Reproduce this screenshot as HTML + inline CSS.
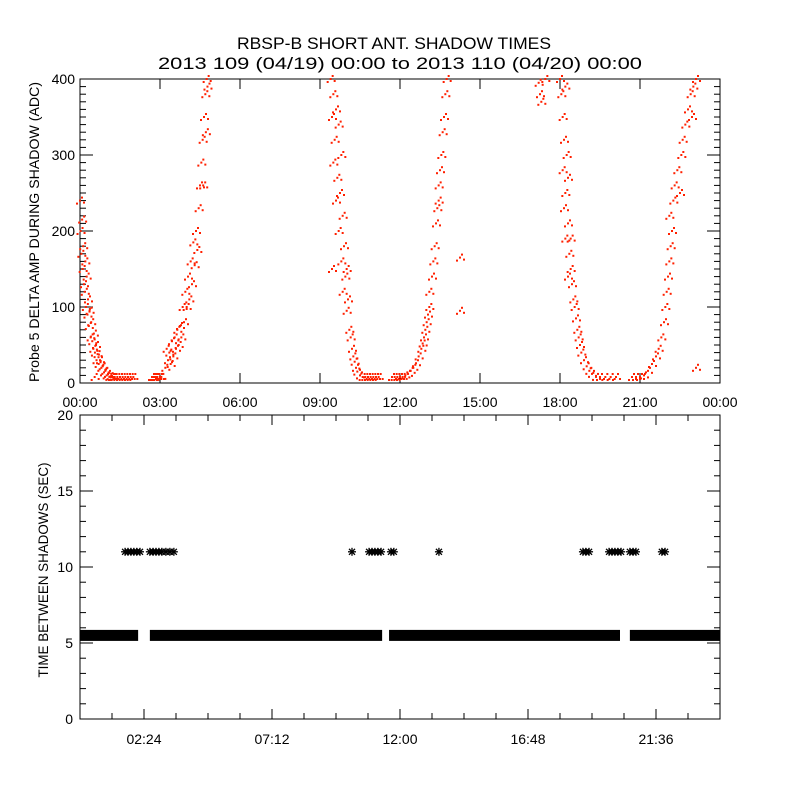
<!DOCTYPE html>
<html><head><meta charset="utf-8"><style>
html,body{margin:0;padding:0;background:#fff;}
svg{display:block;font-family:"Liberation Sans",sans-serif;}
text{fill:#000;}
</style></head><body>
<svg id="c" width="800" height="800" viewBox="0 0 800 800" xmlns="http://www.w3.org/2000/svg">
<rect width="800" height="800" fill="#fff"/>
<text x="394" y="49" font-size="17" text-anchor="middle" textLength="314" lengthAdjust="spacingAndGlyphs">RBSP-B SHORT ANT. SHADOW TIMES</text>
<text x="400" y="69" font-size="17" text-anchor="middle" textLength="484" lengthAdjust="spacingAndGlyphs">2013 109 (04/19) 00:00 to 2013 110 (04/20) 00:00</text>
<g id="top"></g>
<g id="bot"></g>
<text transform="translate(39,232) rotate(-90)" font-size="14" text-anchor="middle" textLength="300" lengthAdjust="spacingAndGlyphs">Probe 5 DELTA AMP DURING SHADOW (ADC)</text>
<text transform="translate(48,570) rotate(-90)" font-size="14" text-anchor="middle" textLength="215" lengthAdjust="spacingAndGlyphs">TIME BETWEEN SHADOWS (SEC)</text>
</svg>
<script>
// ---- top panel data (hours, ADC) ----
const arc1Hours=[0,0.02,0.05,0.08,0.1,0.12,0.15,0.18,0.2,0.22,0.25,0.28,0.3,0.33,0.36,0.4,0.42,0.46,0.5,0.52,0.56,0.6,0.62,0.66,0.7,0.75,0.8,0.85,0.9,0.95,1.0,1.05,1.1,1.15,1.2,1.25,1.3,1.4,1.5,1.6,1.7,1.8,1.9,2.0,0.55,2.7,2.75,2.8,2.85,2.9,3.0,3.05,3.2,3.25,3.3,3.35,3.4,3.45,3.5,3.55,3.6,3.65,3.7,3.75,3.8,3.85,3.9,3.95,4.0,4.05,4.1,4.15,4.2,4.25,4.3,4.35,4.4,4.45,4.5,4.55,4.6,4.62,4.65,4.7,4.72,4.75,4.78];
const arc1Amps=[240,200,170,215,150,180,130,120,160,100,140,90,110,75,95,60,80,55,45,65,40,50,30,38,25,30,20,22,14,16,10,12,8,9,6,5,4,3,2,1,1,1,1,1,5,1,0,2,1,3,5,8,20,45,30,40,25,55,35,60,45,70,50,75,60,100,80,120,100,140,110,160,130,185,155,200,175,230,260,290,320,260,350,380,330,400,390];
const arc2Hours=[9.4,9.5,9.45,9.6,9.55,9.7,9.5,9.65,9.8,9.6,9.75,9.85,9.7,9.9,9.8,9.95,9.85,10.0,10.05,10.0,10.1,10.15,10.2,10.25,10.3,10.35,10.4,10.5,10.6,10.7,10.8,10.9,11.0,11.1,11.2,9.45,11.7,11.8,11.9,12.0,12.1,12.2,12.3,12.4,12.5,12.6,12.7,12.8,12.85,12.9,12.95,13.0,13.05,13.1,13.1,13.2,13.25,13.3,13.35,13.4,13.45,13.5,13.55,13.6,13.65,13.7,13.75,13.45,14.25,14.25];
const arc2Amps=[400,380,350,360,320,340,290,270,300,240,250,220,200,180,160,140,120,150,110,95,70,60,45,35,28,20,15,10,6,4,3,2,1,1,2,150,1,3,5,6,8,10,12,16,20,26,35,45,52,60,70,80,90,100,120,140,160,180,210,230,260,280,300,330,350,380,400,240,165,95];
const arc3Hours=[17.2,17.25,17.3,17.45,18.0,18.05,18.1,18.2,18.15,18.25,18.1,18.2,18.3,18.15,18.3,18.2,18.35,18.4,18.45,18.5,18.55,18.6,18.65,18.7,18.75,18.8,18.9,19.0,19.1,19.2,19.35,19.5,19.7,19.9,20.1,18.4,18.3,20.7,20.85,21.0,21.15,21.3,21.45,21.6,21.7,21.8,21.9,21.95,22.0,22.05,22.1,22.15,22.2,22.1,22.25,22.3,22.4,22.5,22.55,22.6,22.7,22.8,22.9,23.0,23.1,22.95,23.1];
const arc3Amps=[395,380,370,400,400,380,350,390,320,300,280,250,270,230,210,190,170,150,130,110,100,85,70,60,50,40,30,22,16,12,8,5,3,1,0,190,140,0,3,6,10,16,25,35,45,60,80,100,120,140,160,180,200,220,240,260,280,250,300,320,340,360,380,390,400,350,20];
const topXTicks=["00:00","03:00","06:00","09:00","12:00","15:00","18:00","21:00","00:00"];
const topYTicks=[0,100,200,300,400];
// ---- bottom panel data ----
const bandStarts=[0,2.62,11.59,20.62];
const bandEnds=[2.18,11.33,20.25,24];
const bandValue=5.5;
const longHours=[1.69,1.8,1.91,2.02,2.13,2.25,2.62,2.74,2.85,2.96,3.07,3.22,3.37,3.52,10.2,10.84,10.95,11.06,11.17,11.29,11.66,11.77,13.46,18.86,18.97,19.09,19.84,19.95,20.06,20.17,20.29,20.62,20.74,20.85,21.82,21.94];
const longValue=11;
const botXTicks=["02:24","07:12","12:00","16:48","21:36"];
const botYTicks=[0,5,10,15,20];

const NS="http://www.w3.org/2000/svg";
function mk(tag,attrs,parent){const e=document.createElementNS(NS,tag);for(const k in attrs)e.setAttribute(k,attrs[k]);parent.appendChild(e);return e;}
const L=80,R=720,T1=79,B1=383,T2=415,B2=719;
const x=h=>L+(h/24)*(R-L);
const y1=v=>B1-(v/400)*(B1-T1);
const y2=v=>B2-(v/20)*(B2-T2);
const topG=document.getElementById('top'),botG=document.getElementById('bot');

// top frame
let f=mk('rect',{x:L,y:T1,width:R-L,height:B1-T1,fill:'none',stroke:'#000','stroke-width':1},topG);


for(let v=0;v<=400;v+=10){const maj=v%100===0;const len=maj?13:6;
 mk('line',{x1:L,x2:L+len,y1:y1(v),y2:y1(v),stroke:'#000'},topG);
 mk('line',{x1:R,x2:R-len,y1:y1(v),y2:y1(v),stroke:'#000'},topG);}
topYTicks.forEach(v=>{const t=mk('text',{x:L-5,y:y1(v)+5,'font-size':14,'text-anchor':'end'},topG);t.textContent=v;
 
 });
topXTicks.forEach((s,i)=>{const xx=x(i*3);
 mk('line',{x1:xx,x2:xx,y1:B1,y2:B1-10,stroke:'#000'},topG);
 mk('line',{x1:xx,x2:xx,y1:T1,y2:T1+10,stroke:'#000'},topG);
 const t=mk('text',{x:xx,y:B1+24,'font-size':14,'text-anchor':'middle'},topG);t.textContent=s;
 
 });
const dotOffX=[-1,3,-4,1], dotOffY=[-1,1,2,-4];
function drawArc(hs,as,name){const g=mk('g',{},topG);
 
 
 hs.forEach((h,i)=>{const px=x(h),py=Math.min(y1(as[i]),B1-6);
  for(let k=0;k<dotOffX.length;k++){
   mk('rect',{x:px+dotOffX[k],y:Math.min(py+dotOffY[k],B1-4),width:2,height:2,fill:'#ff2000'},g);}
 });}
drawArc(arc1Hours,arc1Amps,'amp-series-pass-1');
drawArc(arc2Hours,arc2Amps,'amp-series-pass-2');
drawArc(arc3Hours,arc3Amps,'amp-series-pass-3');

// bottom frame
f=mk('rect',{x:L,y:T2,width:R-L,height:B2-T2,fill:'none',stroke:'#000','stroke-width':1},botG);


for(let v=0;v<=20;v+=1){const maj=v%5===0;const len=maj?13:6;
 mk('line',{x1:L,x2:L+len,y1:y2(v),y2:y2(v),stroke:'#000'},botG);
 mk('line',{x1:R,x2:R-len,y1:y2(v),y2:y2(v),stroke:'#000'},botG);}
botYTicks.forEach(v=>{const t=mk('text',{x:L-7,y:y2(v)+5,'font-size':14,'text-anchor':'end'},botG);t.textContent=v;
 
 });
for(let h=1.2;h<24;h+=1.2){const xx=x(h);
 mk('line',{x1:xx,x2:xx,y1:B2,y2:B2-6,stroke:'#000'},botG);
 mk('line',{x1:xx,x2:xx,y1:T2,y2:T2+6,stroke:'#000'},botG);}
botXTicks.forEach((s,i)=>{const xx=x(2.4+i*4.8);
 mk('line',{x1:xx,x2:xx,y1:B2,y2:B2-10,stroke:'#000'},botG);
 mk('line',{x1:xx,x2:xx,y1:T2,y2:T2+10,stroke:'#000'},botG);
 const t=mk('text',{x:xx,y:B2+25,'font-size':14,'text-anchor':'middle'},botG);t.textContent=s;
 
 });
bandStarts.forEach((s,i)=>{const r=mk('rect',{x:x(s),y:y2(bandValue)-5.5,width:x(bandEnds[i])-x(s),height:11,fill:'#000'},botG);
 
 });
function star(cx,cy,g){const s=4;
 mk('line',{x1:cx-s,x2:cx+s,y1:cy,y2:cy,stroke:'#000','stroke-width':1.3},g);
 mk('line',{x1:cx,x2:cx,y1:cy-s,y2:cy+s,stroke:'#000','stroke-width':1.3},g);
 mk('line',{x1:cx-3,x2:cx+3,y1:cy-3,y2:cy+3,stroke:'#000','stroke-width':1.3},g);
 mk('line',{x1:cx-3,x2:cx+3,y1:cy+3,y2:cy-3,stroke:'#000','stroke-width':1.3},g);}
const lg=mk('g',{},botG);


longHours.forEach(h=>star(x(h),y2(longValue),lg));
</script>
</body></html>
